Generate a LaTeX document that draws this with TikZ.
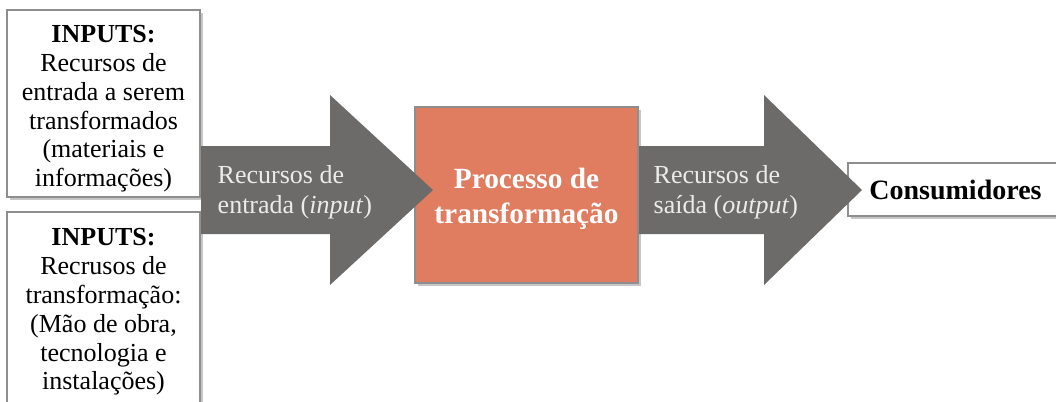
\documentclass[tikz,border=0pt]{standalone}
\usepackage{fontspec}
\setmainfont{Liberation Serif}
\usetikzlibrary{shadows}
\definecolor{flowgray}{HTML}{6C6B69}
\definecolor{procorange}{HTML}{E07C60}
\definecolor{framegray}{HTML}{8E8E8E}
\begin{document}
\begin{tikzpicture}[x=0.75pt,y=-0.75pt,
    box/.style={draw=framegray, line width=1.5pt, fill=white, align=center,
        drop shadow={opacity=0.45, shadow xshift=2.5pt, shadow yshift=-2.5pt},
        font=\fontsize{19.5}{21.6}\selectfont},
    procbox/.style={box, fill=procorange, text=white,
        font=\bfseries\fontsize{22}{26}\selectfont},
    flow/.style={fill=flowgray},
    flowlabel/.style={text=white!92!black, align=left, anchor=west,
        font=\fontsize{19.5}{22.5}\selectfont}]
    \useasboundingbox (0,0) rectangle (1056,401);
    % boxes
    \node[box, minimum width=144.75pt, minimum height=140.25pt] (inputs) at (103.5,103.5)
        {\rule{0pt}{21pt}\textbf{INPUTS:}\\Recursos de\\entrada a serem\\transformados\\(materiais e\\informações)};
    \node[box, minimum width=144.75pt, minimum height=150pt] (means) at (103.5,312)
        {\textbf{INPUTS:}\\Recrusos de\\transformação:\\(Mão de obra,\\tecnologia e\\instalações)};
    \node[procbox, minimum width=167.25pt, minimum height=132pt] (proc) at (526.5,195)
        {\rule{0pt}{21.5pt}Processo de\\transformação};
    \node[box, font=\bfseries\fontsize{21}{24}\selectfont,
        minimum width=161.25pt, minimum height=39.75pt] (cons) at (955.5,189.5) {Consumidores};
    % big arrows
    \fill[flow] (inputs.east |- 0,146) -- (330,146) -- (330,95) -- (433,190)
        -- (330,285) -- (330,234) -- (inputs.east |- 0,234) -- cycle;
    \fill[flow] (proc.east |- 0,146) -- (764,146) -- (764,95) -- (862,190)
        -- (764,285) -- (764,234) -- (proc.east |- 0,234) -- cycle;
    \node[flowlabel] (inlab) at (213,192) {Recursos de\\entrada (\textit{input})};
    \node[flowlabel] (outlab) at (649,192) {Recursos de\\saída (\textit{output})};
\end{tikzpicture}
\end{document}
